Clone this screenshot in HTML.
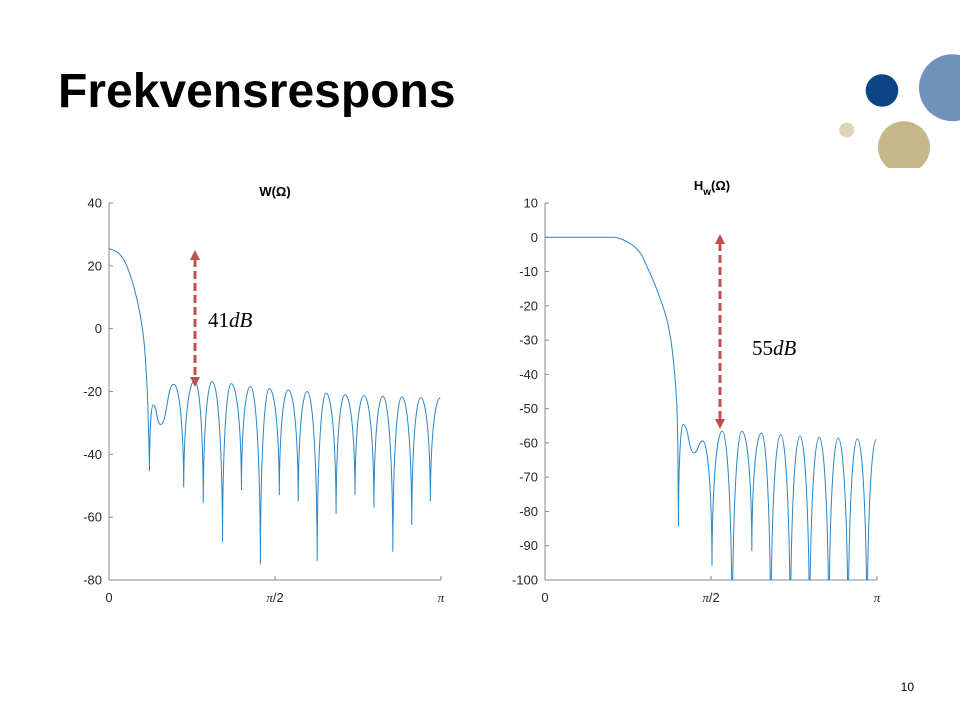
<!DOCTYPE html>
<html><head><meta charset="utf-8"><style>
html,body{margin:0;padding:0;background:#fff;}
svg{display:block;font-family:"Liberation Sans",Arial,sans-serif;}
</style></head><body>
<svg id="slide" width="960" height="720" viewBox="0 0 960 720" xmlns="http://www.w3.org/2000/svg">
<defs>
<clipPath id="clipL"><rect x="109" y="203" width="332" height="377"/></clipPath>
<clipPath id="clipR"><rect x="545" y="203" width="332" height="377"/></clipPath>
<clipPath id="clipDeco"><rect x="800" y="0" width="160" height="168"/></clipPath>
</defs>
<text x="58" y="107" font-size="48" font-weight="bold" fill="#000">Frekvensrespons</text>
<g clip-path="url(#clipDeco)">
<circle cx="882" cy="90.5" r="16.3" fill="#0b4585"/>
<circle cx="952.5" cy="87.7" r="33.5" fill="#6f93bd"/>
<circle cx="846.7" cy="130" r="7.5" fill="#ddd5b6"/>
<circle cx="904" cy="147.3" r="26" fill="#c5b98a"/>
</g>
<g id="chartL"></g>
<g id="chartR"></g>
<g>
<line x1="195" y1="259" x2="195" y2="378" stroke="#c0504d" stroke-width="3" stroke-dasharray="8,4"/>
<polygon points="195,250 190,260 200,260" fill="#c0504d"/>
<polygon points="195,387 190,377 200,377" fill="#c0504d"/>
</g>
<text x="208" y="327" font-size="21" font-family="'Liberation Serif',serif" fill="#000">41<tspan font-style="italic">dB</tspan></text>
<g>
<line x1="720" y1="243" x2="720" y2="420" stroke="#c0504d" stroke-width="3" stroke-dasharray="8,4"/>
<polygon points="720,234 715,244 725,244" fill="#c0504d"/>
<polygon points="720,429 715,419 725,419" fill="#c0504d"/>
</g>
<text x="752" y="355" font-size="21" font-family="'Liberation Serif',serif" fill="#000">55<tspan font-style="italic">dB</tspan></text>
<text x="914" y="691" font-size="12" text-anchor="end" fill="#000">10</text>
</svg>
<script>
// Left chart data: W(Ω) in dB, frequency as fraction of π
const leftMainF = [0, 0.03, 0.055, 0.085, 0.105, 0.115, 0.12];
const leftMainDb = [25.5, 23.9, 19.6, 9, -3.7, -19.6, -35.5];
const leftKnotF = [0.122, 0.133, 0.155, 0.195, 0.225, 0.258, 0.284, 0.311, 0.342, 0.368, 0.399, 0.426, 0.456, 0.483, 0.513, 0.540, 0.570, 0.597, 0.627, 0.654, 0.684, 0.711, 0.741, 0.768, 0.798, 0.825, 0.855, 0.882, 0.912, 0.939, 0.968];
const leftKnotDb = [-45.3, -24.3, -30.5, -17.7, -50.5, -16.5, -55.5, -16.8, -68, -17.5, -51.4, -18.4, -75, -19.1, -53, -19.5, -55, -20, -74, -20.5, -59, -21, -53, -21.3, -57, -21.5, -71, -21.7, -62.5, -22, -55];
const leftKnotKind = ['n','p','m','p','n','p','n','p','n','p','n','p','n','p','n','p','n','p','n','p','n','p','n','p','n','p','n','p','n','p','n'];
const leftEndF = 0.998, leftEndDb = -22;
const leftYTicks = [40, 20, 0, -20, -40, -60, -80];
const xTickLabels = ['0', 'π/2', 'π'];
const xTickVals = [0, 0.5, 1];
// Right chart data: Hw(Ω) in dB
const rightPassF = [0, 0.1, 0.2, 0.22, 0.246, 0.27, 0.29, 0.307, 0.337, 0.367, 0.382, 0.392, 0.397, 0.4];
const rightPassDb = [0, 0, 0, -0.2, -1.2, -2.8, -5, -8.5, -15.3, -24, -32, -41.6, -49, -60];
const rightKnotF = [0.402, 0.416, 0.449, 0.475, 0.503, 0.534, 0.564, 0.593, 0.623, 0.652, 0.680, 0.710, 0.739, 0.768, 0.797, 0.826, 0.855, 0.883, 0.913, 0.941, 0.970];
const rightKnotDb = [-84.4, -54.6, -62.9, -59.4, -95.8, -56.6, -120, -56.6, -91.6, -57.1, -120, -57.6, -120, -58, -120, -58.4, -120, -58.6, -120, -58.8, -120];
const rightKnotKind = ['n','p','m','p','n','p','n','p','n','p','n','p','n','p','n','p','n','p','n','p','n'];
const rightEndF = 0.998, rightEndDb = -59;
const rightYTicks = [10, 0, -10, -20, -30, -40, -50, -60, -70, -80, -90, -100];

const NS = 'http://www.w3.org/2000/svg';
function mk(tag, attrs, parent){const e=document.createElementNS(NS,tag);for(const k in attrs)e.setAttribute(k,attrs[k]);parent.appendChild(e);return e;}

function drawChart(g, cfg){
  const x = f => cfg.x0 + f*(cfg.x1-cfg.x0);
  const y = d => cfg.yTop + (cfg.yMax-d)/(cfg.yMax-cfg.yMin)*(cfg.yBot-cfg.yTop);
  const ax = mk('path',{d:`M${cfg.x0},${cfg.yTop}V${cfg.yBot}H${cfg.x1}`,fill:'none',stroke:'#8a8a8a','stroke-width':1},g);
  
  
  cfg.yTicks.forEach(t=>{
    const yy=y(t);
    const tk=mk('line',{x1:cfg.x0,x2:cfg.x0+4,y1:yy,y2:yy,stroke:'#8a8a8a'},g);
    
    
    const tl=mk('text',{x:cfg.x0-7,y:yy+4.5,'font-size':13,'text-anchor':'end',fill:'#262626'},g);
    tl.textContent=String(t);
    
    
  });
  xTickVals.forEach((v,i)=>{
    const xx=x(v);
    const tk=mk('line',{x1:xx,x2:xx,y1:cfg.yBot,y2:cfg.yBot-4,stroke:'#8a8a8a'},g);
    
    
    const tl=mk('text',{x:xx,y:cfg.yBot+22,'font-size':13,'text-anchor':'middle',fill:'#262626'},g);
    if(i===1){tl.innerHTML='<tspan font-family="Liberation Serif,serif" font-style="italic">π</tspan>/2';}
    else if(i===2){tl.textContent=xTickLabels[i];tl.setAttribute('font-family',"'Liberation Serif',serif");tl.setAttribute('font-style','italic');}
    else tl.textContent=xTickLabels[i];
    
    
  });
  // curve: smooth (Catmull-Rom) through start points
  const sp=cfg.startF.map((f,i)=>[x(f),y(cfg.startDb[i])]);
  let d='M'+sp[0][0]+','+sp[0][1];
  for(let i=0;i<sp.length-1;i++){
    const p0=sp[Math.max(0,i-1)],p1=sp[i],p2=sp[i+1],p3=sp[Math.min(sp.length-1,i+2)];
    const c1x=p1[0]+(p2[0]-p0[0])/6, c1y=p1[1]+(p2[1]-p0[1])/6;
    const c2x=p2[0]-(p3[0]-p1[0])/6, c2y=p2[1]-(p3[1]-p1[1])/6;
    d+=`C${c1x},${c1y} ${c2x},${c2y} ${p2[0]},${p2[1]}`;
  }
  let px=sp[sp.length-1][0], py=sp[sp.length-1][1], pk='c';
  const pts=cfg.kF.map((f,i)=>[x(f),y(cfg.kDb[i]),cfg.kKind[i]]);
  pts.push([x(cfg.endF),y(cfg.endDb),'e']);
  pts.forEach(([qx,qy,k])=>{
    const dx=qx-px;
    if(pk==='c'){ d+='L'+qx+','+qy; }
    else if(k==='n'){ d+=`C${px+0.5*dx},${py} ${qx-0.03*dx},${py+0.35*(qy-py)} ${qx},${qy}`; }
    else if(pk==='n'){ d+=`C${px+0.03*dx},${py+0.65*(qy-py)} ${qx-0.5*dx},${qy} ${qx},${qy}`; }
    else { d+=`C${px+0.5*dx},${py} ${qx-0.5*dx},${qy} ${qx},${qy}`; }
    px=qx;py=qy;pk=k;
  });
  const c=mk('path',{d:d,fill:'none',stroke:'#2a86c8','stroke-width':1,'clip-path':cfg.clip},g);
  
  
}

const gL=document.getElementById('chartL');
drawChart(gL,{x0:109,x1:441,yTop:203,yBot:580,yMax:40,yMin:-80,yTicks:leftYTicks,startF:leftMainF,startDb:leftMainDb,kF:leftKnotF,kDb:leftKnotDb,kKind:leftKnotKind,endF:leftEndF,endDb:leftEndDb,clip:'url(#clipL)'});
const tL=mk('text',{x:275,y:196,'font-size':13,'font-weight':'bold','text-anchor':'middle',fill:'#000'},gL);
tL.textContent='W(Ω)';



const gR=document.getElementById('chartR');
drawChart(gR,{x0:545,x1:877,yTop:203,yBot:580,yMax:10,yMin:-100,yTicks:rightYTicks,startF:rightPassF,startDb:rightPassDb,kF:rightKnotF,kDb:rightKnotDb,kKind:rightKnotKind,endF:rightEndF,endDb:rightEndDb,clip:'url(#clipR)'});
const tR=mk('text',{x:712,y:190,'font-size':13,'font-weight':'bold','text-anchor':'middle',fill:'#000'},gR);
tR.innerHTML='H<tspan font-size="10" dy="5">w</tspan><tspan dy="-5">(Ω)</tspan>';


</script>
</body></html>
